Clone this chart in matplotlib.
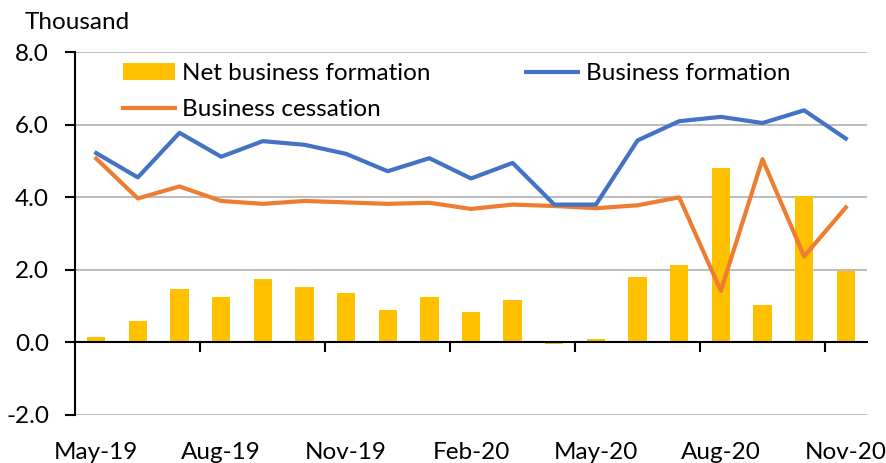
import matplotlib.pyplot as plt
import numpy as np

# monthly data, thousands
months = ['May-19', 'Jun-19', 'Jul-19', 'Aug-19', 'Sep-19', 'Oct-19', 'Nov-19', 'Dec-19',
          'Jan-20', 'Feb-20', 'Mar-20', 'Apr-20', 'May-20', 'Jun-20', 'Jul-20', 'Aug-20',
          'Sep-20', 'Oct-20', 'Nov-20']
net_formation = [0.15, 0.6, 1.48, 1.25, 1.75, 1.54, 1.35, 0.9, 1.25, 0.85, 1.18, -0.04,
                 0.1, 1.8, 2.12, 4.8, 1.02, 4.03, 1.96]
formation = [5.22, 4.55, 5.78, 5.12, 5.55, 5.45, 5.2, 4.72, 5.08, 4.52, 4.95, 3.8,
             3.8, 5.57, 6.1, 6.22, 6.05, 6.4, 5.62]
cessation = [5.07, 3.97, 4.3, 3.9, 3.82, 3.9, 3.86, 3.82, 3.85, 3.68, 3.8, 3.76,
             3.7, 3.78, 4.0, 1.42, 5.05, 2.37, 3.72]

plt.rcParams['font.family'] = ['Lato', 'DejaVu Sans']
fs = 17.5

fig, ax = plt.subplots(figsize=(8.87, 4.63), dpi=100)
fig.subplots_adjust(left=0.085, right=0.977, top=0.887, bottom=0.104)

x = np.arange(len(months))
bars = ax.bar(x, net_formation, width=0.44, color='#FFC000', label='Net business formation', zorder=2)
l_cess, = ax.plot(x, cessation, color='#ED7D31', lw=3, label='Business cessation', zorder=3)
l_form, = ax.plot(x, formation, color='#4472C4', lw=3, label='Business formation', zorder=4)

ax.set_xlim(-0.5, len(months) - 0.5)
ax.set_ylim(-2, 8)
ax.set_yticks([-2, 0, 2, 4, 6, 8])
ax.set_yticklabels([f'{v:.1f}' for v in [-2, 0, 2, 4, 6, 8]], fontsize=fs)
ax.grid(axis='y', color='#b0b0b0', lw=1.2, zorder=0)

# x axis sits at zero, labels at bottom
ax.spines['bottom'].set_position(('data', 0))
ax.spines['bottom'].set_color('black')
ax.spines['bottom'].set_linewidth(1.5)
ax.spines['left'].set_linewidth(1.5)
ax.spines['top'].set_visible(False)
ax.spines['right'].set_visible(False)

ax.set_xticks(np.arange(2.5, len(months), 3))
ax.set_xticklabels([])
ax.tick_params(axis='x', length=7, width=1.5, direction='out')
ax.tick_params(axis='y', length=7, width=1.5, direction='out', pad=12)
for i in range(0, len(months), 3):
    ax.text(i, -2.75, months[i], ha='center', va='top', fontsize=fs)

fig.text(0.028, 0.952, 'Thousand', fontsize=fs, ha='left', va='center')

leg1 = ax.legend([bars, l_cess], ['Net business formation', 'Business cessation'],
                 loc='upper left', bbox_to_anchor=(0.032, 1.03), frameon=False,
                 fontsize=fs, handlelength=2.15, handletextpad=0.3, labelspacing=0.62)
ax.add_artist(leg1)
ax.legend([l_form], ['Business formation'], loc='upper left',
          bbox_to_anchor=(0.542, 1.03), frameon=False,
          fontsize=fs, handlelength=2.15, handletextpad=0.3)

plt.savefig('out.png')
